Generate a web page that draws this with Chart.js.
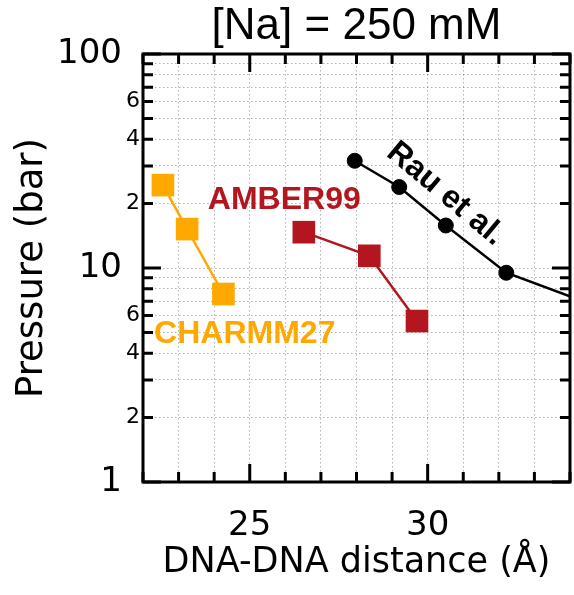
<!DOCTYPE html>
<html>
<head>
<meta charset="utf-8">
<script src="https://cdn.jsdelivr.net/npm/chart.js@4.4.0/dist/chart.umd.min.js"></script>
<style>
  html, body { margin: 0; padding: 0; background: #fff; }
  #wrap { width: 574px; height: 595px; position: relative; }
</style>
</head>
<body>
<div id="wrap"><canvas id="c"></canvas></div>
<script>
/* Valores: distancia (Å) y presión (bar) */
const charmmX = [22.56, 23.24, 24.26];
const charmmP = [24.4, 15.2, 7.56];
const amberX = [26.52, 28.36, 29.70];
const amberP = [14.7, 11.4, 5.65];
const rauX = [27.95, 29.2, 30.51, 32.21, 35.0];
const rauP = [31.7, 23.9, 15.8, 9.5, 6.4];

/* Ticks */
const xTicks = [22, 23, 24, 25, 26, 27, 28, 29, 30, 31, 32, 33, 34];
const xLabelled = [25, 30];
const yTicks = [1, 2, 3, 4, 5, 6, 7, 8, 9, 10, 20, 30, 40, 50, 60, 70, 80, 90, 100];
const yMajor = [1, 10, 100];
const yMinorLabelled = [2, 4, 6, 20, 40, 60];

const RED = '#B3161F';
const ORANGE = '#FFA800';
const GRID = 'rgba(0,0,0,0.3)';

const pts = (xs, ys) => xs.map((x, i) => ({ x, y: ys[i] }));

/* Marco, ticks interiores, etiquetas del eje Y y nombres de series */
const decor = {
  id: 'decor',
  afterDraw(chart) {
    const { ctx, chartArea: a, scales: { x, y } } = chart;
    ctx.save();
    ctx.strokeStyle = '#000';
    ctx.lineWidth = 3;
    ctx.beginPath();
    xTicks.forEach((v) => {
      const px = x.getPixelForValue(v);
      const len = xLabelled.includes(v) ? 18 : 10;
      ctx.moveTo(px, a.bottom); ctx.lineTo(px, a.bottom - len);
      ctx.moveTo(px, a.top); ctx.lineTo(px, a.top + len);
    });
    yTicks.forEach((v) => {
      const py = y.getPixelForValue(v);
      const len = yMajor.includes(v) ? 18 : 10;
      ctx.moveTo(a.left, py); ctx.lineTo(a.left + len, py);
      ctx.moveTo(a.right, py); ctx.lineTo(a.right - len, py);
    });
    ctx.stroke();
    ctx.strokeRect(a.left, a.top, a.right - a.left, a.bottom - a.top);

    ctx.fillStyle = '#000';
    ctx.textAlign = 'right';
    ctx.textBaseline = 'middle';
    ctx.font = '34px "DejaVu Sans"';
    yMajor.forEach((v) => ctx.fillText(String(v), a.left - 21, y.getPixelForValue(v)));
    ctx.font = '22px "DejaVu Sans"';
    yMinorLabelled.forEach((v) => {
      const m = v / Math.pow(10, Math.floor(Math.log10(v)));
      ctx.fillText(String(Math.round(m)), a.left - 3, y.getPixelForValue(v));
    });

    ctx.textAlign = 'center';
    ctx.font = 'bold 32px "Liberation Sans"';
    ctx.fillStyle = RED;
    ctx.fillText('AMBER99', x.getPixelForValue(25.97), y.getPixelForValue(20.7));
    ctx.fillStyle = ORANGE;
    ctx.fillText('CHARMM27', x.getPixelForValue(24.86), y.getPixelForValue(4.92));
    ctx.fillStyle = '#000';
    ctx.translate(x.getPixelForValue(30.5), y.getPixelForValue(22.2));
    ctx.rotate(40 * Math.PI / 180);
    ctx.fillText('Rau et al.', 0, 0);
    ctx.restore();
  },
};

new Chart(document.getElementById('c'), {
  type: 'line',
  data: {
    datasets: [
      {
        label: 'Rau et al.',
        data: pts(rauX, rauP),
        borderColor: '#000', backgroundColor: '#000',
        borderWidth: 2.5, pointStyle: 'circle', pointRadius: 7.5, pointBorderWidth: 1,
      },
      {
        label: 'AMBER99',
        data: pts(amberX, amberP),
        borderColor: RED, backgroundColor: RED,
        borderWidth: 2.5, pointStyle: 'rect', pointRadius: 16, pointBorderWidth: 0,
      },
      {
        label: 'CHARMM27',
        data: pts(charmmX, charmmP),
        borderColor: ORANGE, backgroundColor: ORANGE,
        borderWidth: 2.5, pointStyle: 'rect', pointRadius: 16, pointBorderWidth: 0,
      },
    ],
  },
  options: {
    responsive: true, maintainAspectRatio: false, animation: false, events: [],
    layout: { autoPadding: false, padding: { top: 0, right: 4, left: 0, bottom: 0 } },
    plugins: {
      legend: { display: false },
      tooltip: { enabled: false },
      title: {
        display: true, text: '[Na] = 250 mM', fullSize: false, color: '#000',
        font: { family: 'Liberation Sans', size: 44, weight: 'normal', lineHeight: 1.1 },
        padding: { top: 3, bottom: 2.6 },
      },
    },
    scales: {
      x: {
        type: 'linear', min: 22, max: 34,
        afterBuildTicks: (s) => { s.ticks = xTicks.map((v) => ({ value: v })); },
        afterFit: (s) => { s.height = 113; s.paddingLeft = 0; s.paddingRight = 0; },
        ticks: {
          callback: (v) => (xLabelled.includes(v) ? String(v) : ''),
          color: '#000', padding: 24, maxRotation: 0, autoSkip: false,
          font: { family: 'DejaVu Sans', size: 34 },
        },
        grid: { color: GRID, lineWidth: 1, drawTicks: false },
        border: { display: false, dash: [1.5, 2.5] },
        title: {
          display: true, text: 'DNA-DNA distance (Å)', color: '#000',
          font: { family: 'DejaVu Sans', size: 35 },
          padding: { top: 0, bottom: 11 },
        },
      },
      y: {
        type: 'logarithmic', min: 1, max: 100,
        afterBuildTicks: (s) => { s.ticks = yTicks.map((v) => ({ value: v })); },
        afterFit: (s) => { s.width = 143; },
        ticks: { display: false },
        grid: { color: GRID, lineWidth: 1, drawTicks: false },
        border: { display: false, dash: [1.5, 2.5] },
        title: {
          display: true, text: 'Pressure (bar)', color: '#000',
          font: { family: 'DejaVu Sans', size: 37 },
          padding: { top: 10, bottom: 0 },
        },
      },
    },
  },
  plugins: [decor],
});
</script>
</body>
</html>
